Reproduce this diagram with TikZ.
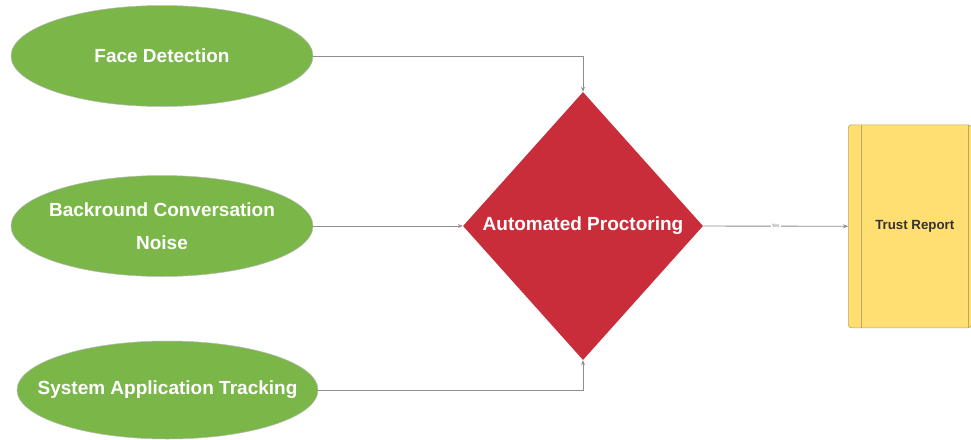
\documentclass[tikz,border=0pt]{standalone}
\usepackage{fontspec}
\setmainfont{Liberation Sans}
\usetikzlibrary{shapes.geometric,arrows.meta}
\definecolor{gfill}{HTML}{7AB648}
\definecolor{rfill}{HTML}{C92D39}
\definecolor{yfill}{HTML}{FFDF71}
\definecolor{ybord}{HTML}{B8A86A}
\definecolor{lnc}{HTML}{8E8E8E}
\definecolor{txtdark}{HTML}{333333}
\tikzset{
  inputell/.style={ellipse, fill=gfill, draw=gray!55, line width=0.5pt, inner sep=0pt},
  elltext/.style={text=white, font=\fontsize{19}{33}\selectfont\bfseries, align=center},
  decide/.style={diamond, fill=rfill, draw=none, inner sep=0pt,
    minimum width=240pt, minimum height=268pt},
  report/.style={rectangle, rounded corners=3pt, fill=yfill, draw=ybord, line width=0.6pt,
    inner sep=0pt, minimum width=123pt, minimum height=203pt,
    text=txtdark, font=\fontsize{13.3}{15}\selectfont\bfseries},
  conn/.style={draw=lnc, line width=0.9pt, -{Stealth[length=5pt,width=4pt,fill=black!70]}},
}
\begin{document}
\begin{tikzpicture}[x=1pt,y=-1pt]
\useasboundingbox (0,0) rectangle (971,439);
\node[inputell, minimum width=302pt, minimum height=101pt,
  label={[elltext]center:Face Detection}] (fd) at (162,56) {};
\node[inputell, minimum width=302pt, minimum height=101pt,
  label={[elltext]center:Backround Conversation\\Noise}] (bc) at (162,226) {};
\node[inputell, minimum width=301pt, minimum height=98pt,
  label={[elltext]center:System Application Tracking}] (st) at (167.5,390) {};
\node[decide, label={[text=white, font=\fontsize{19}{22}\selectfont\bfseries]center:Automated Proctoring}] (ap) at (583,226) {};
\node[report, anchor=north west] (tr) at (848,124.5) {\hspace*{10pt}Trust Report};
\draw[ybord, line width=0.6pt] ([xshift=13pt]tr.north west) -- ([xshift=13pt]tr.south west);
\draw[ybord, line width=0.6pt] ([xshift=-3pt]tr.north east) -- ([xshift=-3pt]tr.south east);
\draw[conn] (fd.east) -| (ap.north);
\draw[conn] (bc.east) -- (ap.west);
\draw[conn] (st.east) -| (ap.south);
\draw[conn] (ap.east) -- node[text=gray, font=\fontsize{5}{6}\selectfont, inner sep=1pt, fill=white] {Yes} (tr.west);
\end{tikzpicture}
\end{document}
